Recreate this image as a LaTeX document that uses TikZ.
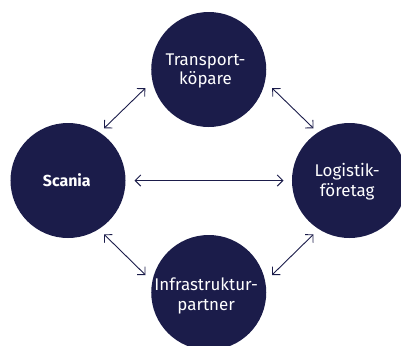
\documentclass[tikz,border=0pt]{standalone}
\usepackage{fontspec}
\setmainfont{Fira Sans}
\usetikzlibrary{arrows.meta}
\definecolor{navy}{HTML}{1B1C4A}
\begin{document}
\begin{tikzpicture}[x=1bp,y=-1bp,
  hub/.style={circle, fill=navy, minimum size=115bp, inner sep=0pt},
  lbl/.style={text=white, font=\fontsize{17}{19.5}\selectfont, align=center, anchor=base, inner sep=0pt},
  boldlbl/.style={text=white, font=\fontsize{16}{19}\selectfont\bfseries, anchor=base, inner sep=0pt},
  link/.style={draw=navy, line width=0.9bp, {Straight Barb[angle=90:8bp]}-{Straight Barb[angle=90:8bp]}}]
\useasboundingbox (0,0) rectangle (401,346);
\clip (0,0) rectangle (401,346);

% the four parties
\node[hub] (tk) at (208.75,69.5) {};
\node[hub] (sc) at (68,180.5) {};
\node[hub] (lf) at (349.5,180.5) {};
\node[hub] (ip) at (208.75,292.5) {};

% labels, placed by the baseline of their last line
\node[lbl] (tk-txt) at (205.5,84.8) {Transport-\\köpare};
\node[boldlbl] (sc-txt) at (66.8,186.5) {Scania};
\node[lbl] (lf-txt) at (347.2,196) {Logistik-\\företag};
\node[lbl] (ip-txt) at (206.2,310) {Infrastruktur-\\partner};

% arrow end points
\coordinate (sc-tk) at (104,128.3);
\coordinate (tk-sc) at (145.3,88.2);
\coordinate (tk-lf) at (272.2,88.2);
\coordinate (lf-tk) at (313.5,128.3);
\coordinate (sc-ip) at (104,234.3);
\coordinate (ip-sc) at (145.5,275);
\coordinate (ip-lf) at (272,275);
\coordinate (lf-ip) at (313.5,234.3);
\coordinate (sc-lf) at (134.5,180.5);
\coordinate (lf-sc) at (283.5,180.5);

% two-way relations
\draw[link] (sc-tk) -- (tk-sc);
\draw[link] (tk-lf) -- (lf-tk);
\draw[link] (sc-ip) -- (ip-sc);
\draw[link] (ip-lf) -- (lf-ip);
\draw[link] (sc-lf) -- (lf-sc);
\end{tikzpicture}
\end{document}
